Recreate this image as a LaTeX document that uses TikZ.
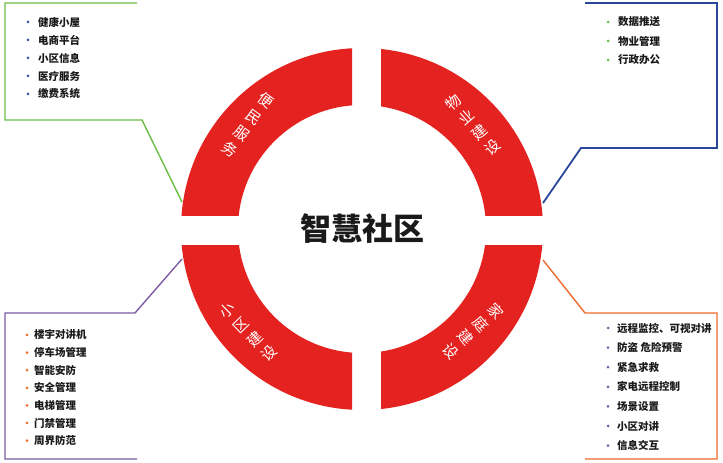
\documentclass[tikz,border=0pt]{standalone}
\usepackage{fontspec}
\setmainfont{Noto Sans CJK SC}
\usepackage{tikz}
\usetikzlibrary{calc}
\definecolor{ringred}{HTML}{E42320}
\definecolor{leafgreen}{HTML}{6ABD45}
\definecolor{navy}{HTML}{29479B}
\definecolor{violet}{HTML}{7D5BA6}
\definecolor{orange}{HTML}{EF6A2C}
\definecolor{dotblue}{HTML}{3B55A5}
\definecolor{ink}{HTML}{1A1A1A}
\tikzset{
    every picture/.style={line cap=round,line join=round},
    listitem/.style={anchor=west,inner sep=0pt,text=ink,
      font=\fontsize{10.5}{12}\selectfont\bfseries},
    dotmark/.style={circle,inner sep=0pt,minimum size=3pt},
    bracketline/.style={line width=1.4pt,line cap=butt,line join=miter},
    ringtext/.style={text=white,align=center,inner sep=0pt,
      font=\fontsize{15}{20}\selectfont},
    quadrant/.style={fill=ringred,even odd rule}
}

\begin{document}
\begin{tikzpicture}[x=1pt,y=1pt]
  \useasboundingbox (0,0) rectangle (723,463);
  \coordinate (C) at (362,234);
  % ring, four quadrants
  \foreach \cx/\cy/\dx/\dy in {0/247/352/463,381/247/723/463,0/0/352/217,381/0/723/217} {
    \begin{scope}
      \clip (\cx,\cy) rectangle (\dx,\dy);
      \fill[quadrant] (C) circle[radius=181pt] (C) circle[radius=124pt];
    \end{scope}
  }
  \node[font=\fontsize{31}{34}\selectfont\bfseries,text=ink] (title) at (C) {智慧社区};
  \node[ringtext,rotate=-36] (bianmin) at (248,338) {便\\民\\服\\务};
  \node[ringtext,rotate=41] (wuye) at (473,338) {物\\业\\建\\设};
  \node[ringtext,rotate=44] (xiaoqu) at (248,131) {小\\区\\建\\设};
  \node[ringtext,rotate=-48] (jiating) at (473,132) {家\\庭\\建\\设};
  % ends of the connectors on the ring
  \coordinate (tlend) at (182,261);
  \coordinate (trend) at (543,260);
  \coordinate (blend) at (182,204);
  \coordinate (brend) at (543,203);
  \draw[bracketline,leafgreen] (tlend) -- (142,343) -- (5,343) -- (5,460) -- (137,460);
  \draw[bracketline,navy,line width=1.8pt] (trend) -- (581,315) -- (717,315) -- (717,460) -- (585,460);
  \draw[bracketline,violet] (blend) -- (135,150) -- (5,150) -- (5,4) -- (137,4);
  \draw[bracketline,orange] (brend) -- (585,150) -- (717,150) -- (717,4) -- (585,4);
  % lists
  \foreach \v [count=\i] in {健康小屋,电商平台,小区信息,医疗服务,缴费系统} {
    \node[dotmark,fill=dotblue] (tldot\i) at (28,{441-18*(\i-1)}) {};
    \node[listitem] (tl\i) at (38,{441-18*(\i-1)}) {\v};
  }
  \foreach \v [count=\i] in {数据推送,物业管理,行政办公} {
    \node[dotmark,fill=leafgreen] (trdot\i) at (608,{441-19*(\i-1)}) {};
    \node[listitem] (tr\i) at (618,{441-19*(\i-1)}) {\v};
  }
  \foreach \v [count=\i] in {楼宇对讲机,停车场管理,智能安防,安全管理,电梯管理,门禁管理,周界防范} {
    \node[dotmark,fill=orange] (bldot\i) at (27,{128-17.6*(\i-1)}) {};
    \node[listitem] (bl\i) at (34,{128-17.6*(\i-1)}) {\v};
  }
  \foreach \v [count=\i] in {远程监控、可视对讲,防盗 危险预警,紧急求救,家电远程控制,场景设置,小区对讲,信息交互} {
    \node[dotmark,fill=violet] (brdot\i) at (608,{135-19.6*(\i-1)}) {};
    \node[listitem] (br\i) at (617,{135-19.6*(\i-1)}) {\v};
  }
\end{tikzpicture}
\end{document}
